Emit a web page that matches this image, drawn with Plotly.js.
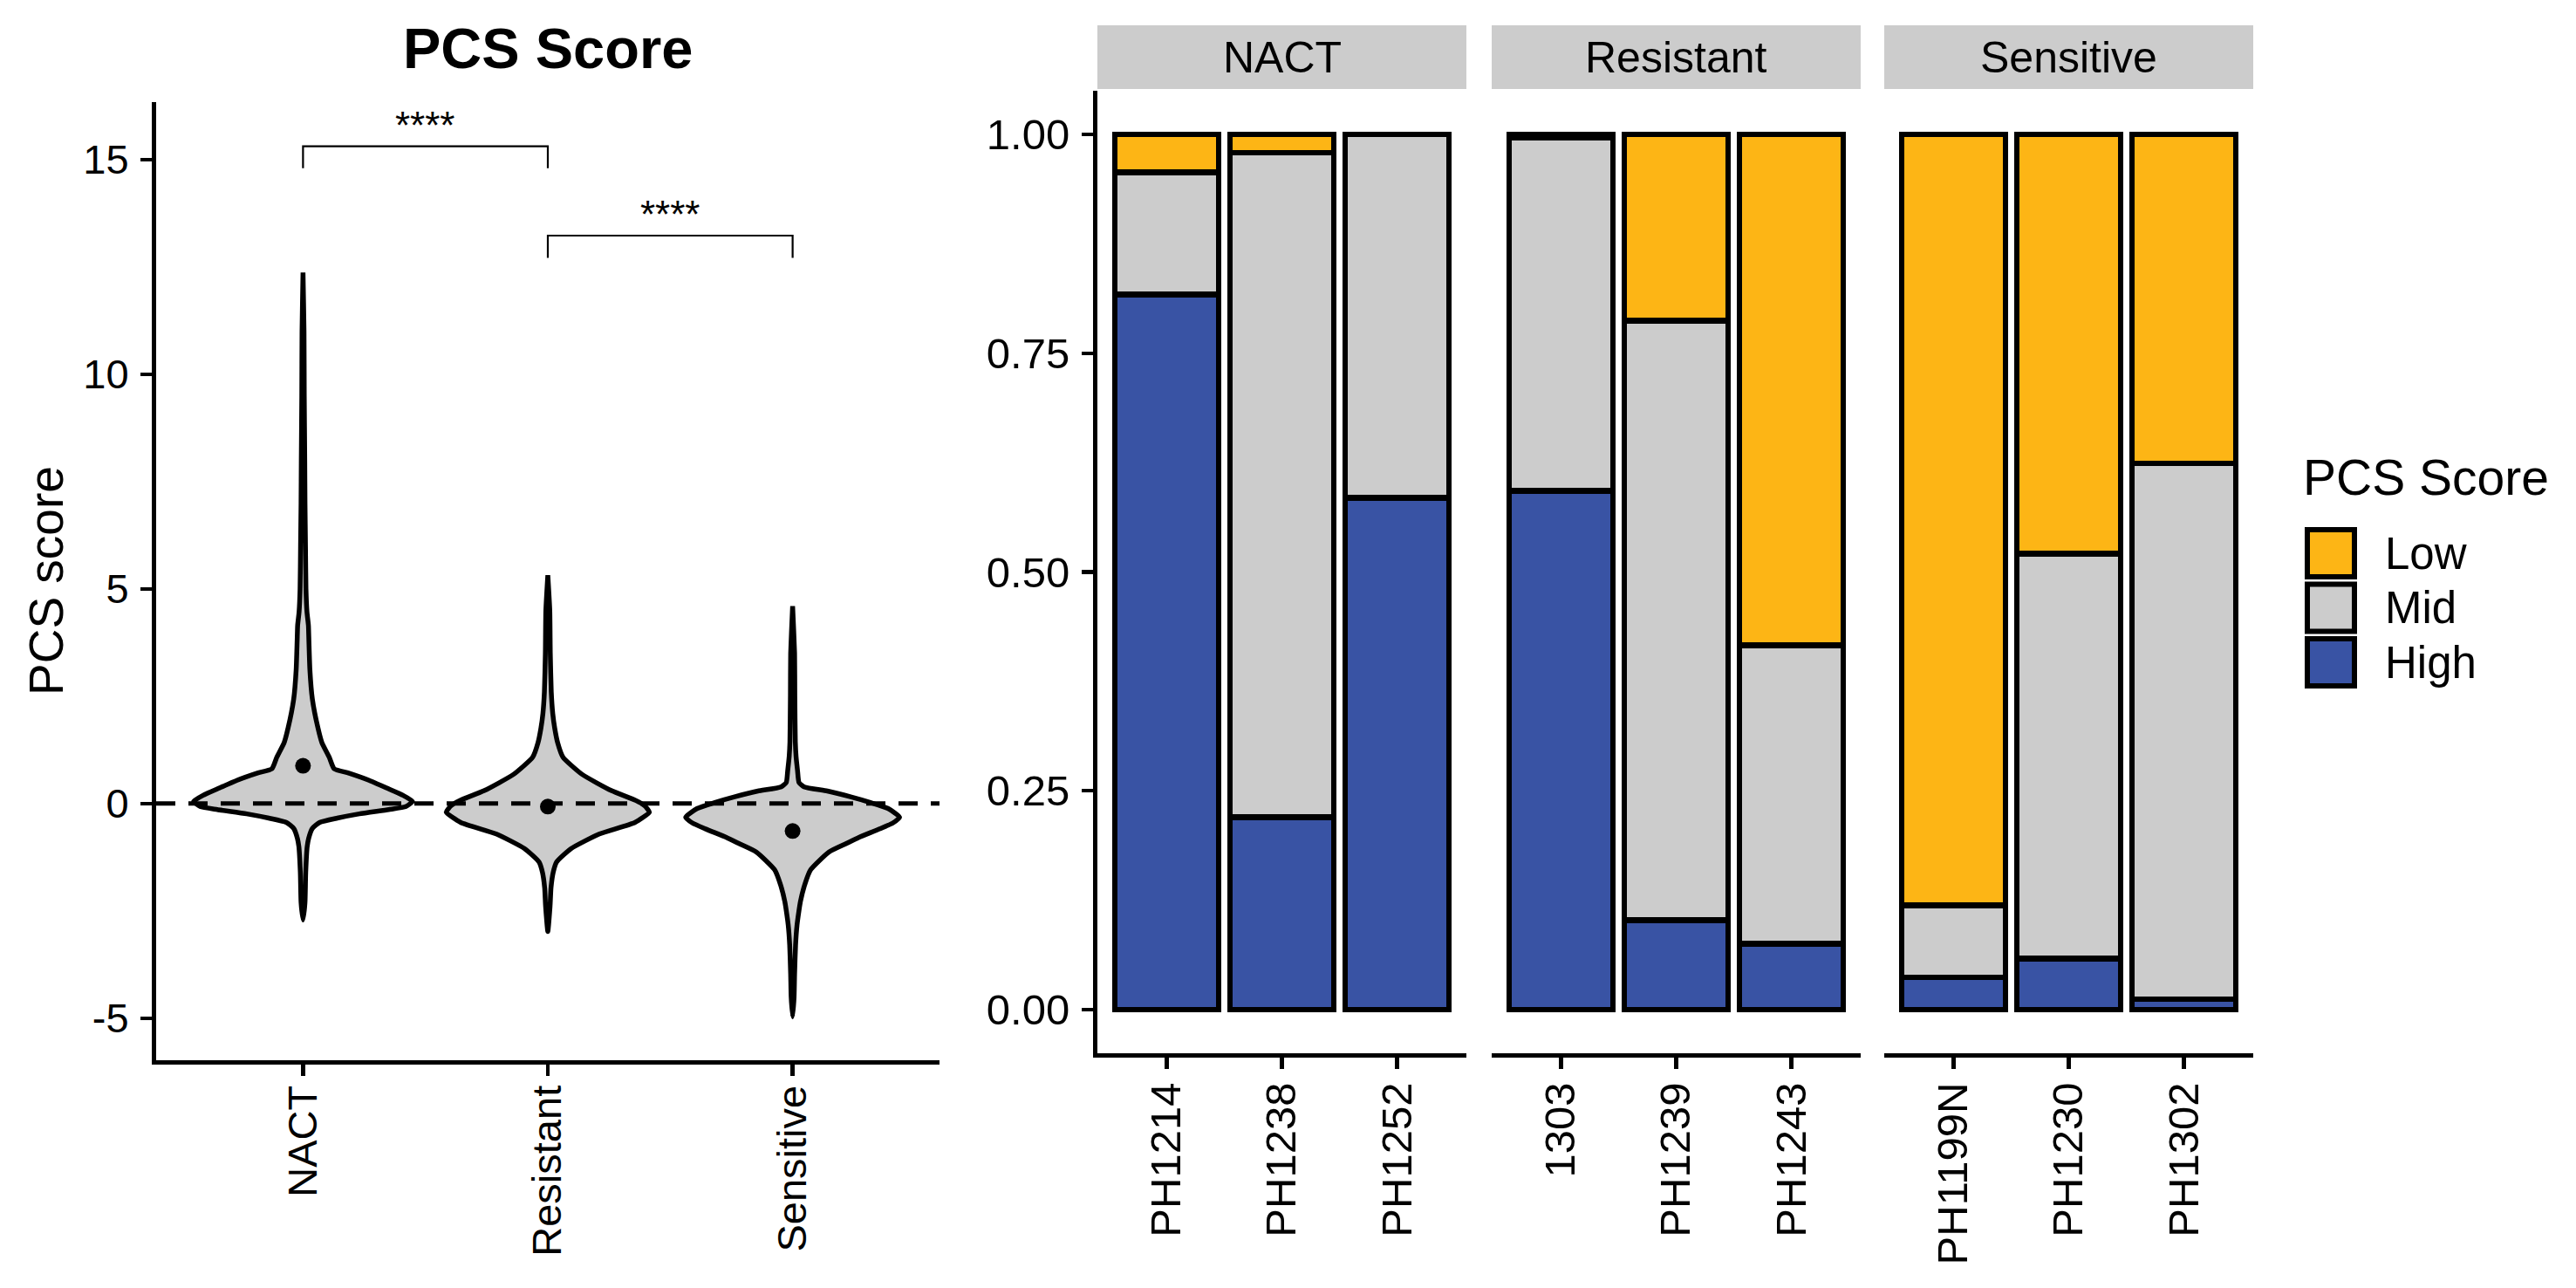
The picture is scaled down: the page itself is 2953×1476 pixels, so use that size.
<!DOCTYPE html>
<html>
<head>
<meta charset="utf-8">
<script src="https://cdn.plot.ly/plotly-3.0.1.min.js"></script>
<style>
  html, body { margin: 0; padding: 0; background: #fff; }
  #plot { width: 2953px; height: 1476px; }
</style>
</head>
<body>
<div id="plot"></div>
<script>
// ---- left panel: violin outlines (score, half width) ----
const groups = ['NACT', 'Resistant', 'Sensitive'];

const nactY = [-2.71, -2.3, -1.6, -1.0, -0.81, -0.58, -0.44, -0.34, -0.24, -0.14, -0.07, 0.05, 0.2, 0.34, 0.54, 0.71, 0.81, 1.08, 1.42, 1.76, 2.44, 3.12, 3.79, 4.15, 4.47, 5.0, 6.0, 7.0, 8.0, 9.5, 11.0, 12.37];
const nactW = [0, 0.008, 0.011, 0.017, 0.023, 0.038, 0.068, 0.14, 0.23, 0.35, 0.42, 0.447, 0.405, 0.35, 0.27, 0.186, 0.127, 0.107, 0.077, 0.061, 0.038, 0.028, 0.024, 0.022, 0.016, 0.012, 0.010, 0.008, 0.007, 0.005, 0.004, 0];

const resY = [-2.98, -2.4, -1.96, -1.6, -1.36, -1.05, -0.71, -0.44, -0.2, -0.05, 0.07, 0.3, 0.68, 1.08, 1.42, 1.76, 2.1, 2.6, 3.5, 4.5, 5.32];
const resW = [0, 0.009, 0.013, 0.022, 0.036, 0.095, 0.21, 0.356, 0.415, 0.395, 0.36, 0.26, 0.14, 0.062, 0.04, 0.028, 0.02, 0.014, 0.010, 0.008, 0];

const senY = [-4.97, -4.5, -3.98, -3.3, -2.83, -2.49, -2.28, -1.88, -1.54, -1.13, -0.93, -0.79, -0.59, -0.45, -0.32, -0.115, 0.02, 0.156, 0.29, 0.39, 0.49, 0.77, 1.1, 1.44, 2.5, 3.5, 4.6];
const senW = [0, 0.006, 0.008, 0.012, 0.018, 0.026, 0.032, 0.05, 0.074, 0.148, 0.22, 0.27, 0.356, 0.41, 0.437, 0.39, 0.32, 0.237, 0.142, 0.047, 0.026, 0.02, 0.014, 0.011, 0.009, 0.008, 0];

const groupMeans = [0.88, -0.07, -0.64];
const scoreTicks = [-5, 0, 5, 10, 15];
const scoreTickText = ['-5', '0', '5', '10', '15'];

// significance brackets
const sigFrom = [1, 2];
const sigTo = [2, 3];
const sigTop = [15.31, 13.23];
const sigTip = [14.8, 12.71];
const sigLabels = ['****', '****'];

// ---- right panel: fraction of cells per sample ----
const facets = ['NACT', 'Resistant', 'Sensitive'];
const nactSamples = ['PH1214', 'PH1238', 'PH1252'];
const resSamples = ['1303', 'PH1239', 'PH1243'];
const senSamples = ['PH1199N', 'PH1230', 'PH1302'];

const levels = ['Low', 'Mid', 'High'];
const levelColors = ['#FDB515', '#CCCCCC', '#3953A4'];

const nactLow = [0.043, 0.021, 0.000];
const nactMid = [0.140, 0.759, 0.415];
const nactHigh = [0.817, 0.220, 0.585];

const resLow = [0.004, 0.213, 0.584];
const resMid = [0.403, 0.685, 0.341];
const resHigh = [0.593, 0.102, 0.075];

const senLow = [0.881, 0.479, 0.376];
const senMid = [0.082, 0.463, 0.612];
const senHigh = [0.037, 0.058, 0.012];

const fracTicks = [0, 0.25, 0.5, 0.75, 1];
const fracTickText = ['0.00', '0.25', '0.50', '0.75', '1.00'];

// ---- build traces ----
const W = 2953, H = 1476;
const px = v => v / W;            // pixel -> paper (x)
const py = v => 1 - v / H;        // pixel -> paper (y)
const FONT = 'Liberation Sans, Arial, Helvetica, sans-serif';

const violinSets = [[nactY, nactW], [resY, resW], [senY, senW]];
const traces = [];

violinSets.forEach(([ys, ws], i) => {
  const c = i + 1;
  const right = ws.map(w => c + w);
  const left = ws.slice().reverse().map(w => c - w);
  traces.push({
    x: right.concat(left),
    y: ys.concat(ys.slice().reverse()),
    type: 'scatter',
    mode: 'lines',
    fill: 'toself',
    fillcolor: '#CCCCCC',
    line: { color: 'black', width: 5.5, shape: 'spline', smoothing: 0.5 },
    hoverinfo: 'skip',
    xaxis: 'x', yaxis: 'y'
  });
});

traces.push({
  x: [1, 2, 3], y: groupMeans,
  type: 'scatter', mode: 'markers',
  marker: { color: 'black', size: 18 },
  hoverinfo: 'skip', xaxis: 'x', yaxis: 'y'
});

sigFrom.forEach((a, i) => {
  traces.push({
    x: [a, a, sigTo[i], sigTo[i]],
    y: [sigTip[i], sigTop[i], sigTop[i], sigTip[i]],
    type: 'scatter', mode: 'lines',
    line: { color: 'black', width: 2.2 },
    hoverinfo: 'skip', xaxis: 'x', yaxis: 'y'
  });
});

const facetSamples = [nactSamples, resSamples, senSamples];
const facetValues = [
  [nactLow, nactMid, nactHigh],
  [resLow, resMid, resHigh],
  [senLow, senMid, senHigh]
];
const facetAxes = ['x2', 'x3', 'x4'];

facets.forEach((f, fi) => {
  // High first so it sits at the bottom of the stack
  [2, 1, 0].forEach(li => {
    traces.push({
      type: 'bar',
      x: facetSamples[fi],
      y: facetValues[fi][li],
      name: levels[li],
      width: 0.9,
      marker: { color: levelColors[li], line: { color: 'black', width: 6.5 } },
      hoverinfo: 'skip',
      xaxis: facetAxes[fi], yaxis: 'y2'
    });
  });
});

// ---- axes ----
const baseAxis = {
  showline: true, linecolor: 'black', linewidth: 5,
  ticks: 'outside', ticklen: 13, tickwidth: 4.5, tickcolor: 'black',
  showgrid: false, zeroline: false, fixedrange: true
};

const facetDomains = [[1258, 1681], [1710, 2133], [2160, 2583]];

const layout = {
  width: W, height: H,
  margin: { l: 0, r: 0, t: 0, b: 0 },
  paper_bgcolor: 'white', plot_bgcolor: 'rgba(0,0,0,0)',
  showlegend: false,
  barmode: 'stack',
  font: { family: FONT, color: 'black' },
  xaxis: {
    ...baseAxis, domain: [px(179), px(1077)], anchor: 'y',
    range: [0.4, 3.6], tickvals: [1, 2, 3], ticktext: groups,
    tickangle: -90, tickfont: { size: 47, color: 'black' }, ticklabelstandoff: -8
  },
  yaxis: {
    ...baseAxis, domain: [py(1215), py(117)], anchor: 'x',
    range: [-5.98, 16.34], tickvals: scoreTicks, ticktext: scoreTickText,
    tickfont: { size: 47, color: 'black' }, ticklabelstandoff: 4
  },
  yaxis2: {
    ...baseAxis, domain: [py(1207), py(104)], anchor: 'x2',
    range: [-0.05, 1.05], tickvals: fracTicks, ticktext: fracTickText,
    tickfont: { size: 49, color: 'black' }, ticklabelstandoff: 4
  },
  shapes: [],
  annotations: []
};

facetAxes.forEach((ax, fi) => {
  layout['xaxis' + (fi + 2)] = {
    ...baseAxis, type: 'category',
    domain: [px(facetDomains[fi][0]), px(facetDomains[fi][1])],
    anchor: 'y2', range: [-0.6, 2.6],
    tickangle: -90, tickfont: { size: 49, color: 'black' }, ticklabelstandoff: -4
  };
  // strip header
  layout.shapes.push({
    type: 'rect', xref: 'paper', yref: 'paper',
    x0: px(facetDomains[fi][0]), x1: px(facetDomains[fi][1]),
    y0: py(102), y1: py(29),
    fillcolor: '#CCCCCC', line: { width: 0 }, layer: 'below'
  });
  layout.annotations.push({
    xref: 'paper', yref: 'paper',
    x: px((facetDomains[fi][0] + facetDomains[fi][1]) / 2), y: py(66),
    text: facets[fi], showarrow: false,
    xanchor: 'center', yanchor: 'middle',
    font: { size: 50, color: 'black' }
  });
});

// dashed reference line at 0
layout.shapes.push({
  type: 'line', xref: 'x', yref: 'y',
  x0: 0.4, x1: 3.6, y0: 0, y1: 0,
  line: { color: 'black', width: 5, dash: '22px,15px' },
  layer: 'above'
});

// significance labels
sigFrom.forEach((a, i) => {
  layout.annotations.push({
    xref: 'x', yref: 'y', x: (a + sigTo[i]) / 2, y: sigTop[i] + 0.5,
    text: sigLabels[i], showarrow: false,
    xanchor: 'center', yanchor: 'middle',
    font: { size: 44, color: 'black' }
  });
});

// titles
layout.annotations.push({
  xref: 'paper', yref: 'paper', x: px(628), y: py(56),
  text: '<b>PCS Score</b>', showarrow: false,
  xanchor: 'center', yanchor: 'middle',
  font: { size: 65, color: 'black' }
});
layout.annotations.push({
  xref: 'paper', yref: 'paper', x: px(53), y: py(666),
  text: 'PCS score', textangle: -90, showarrow: false,
  xanchor: 'center', yanchor: 'middle',
  font: { size: 55, color: 'black' }
});

// legend drawn by hand so the keys can be large squares
layout.annotations.push({
  xref: 'paper', yref: 'paper', x: px(2638), y: py(547),
  text: 'PCS Score', showarrow: false,
  xanchor: 'left', yanchor: 'middle',
  font: { size: 57, color: 'black' }
});
levels.forEach((lv, i) => {
  const top = 603 + i * 62.5;
  layout.shapes.push({
    type: 'rect', xref: 'paper', yref: 'paper',
    x0: px(2645), x1: px(2699), y0: py(top + 58), y1: py(top + 4),
    fillcolor: levelColors[i], line: { color: 'black', width: 6 }
  });
  layout.annotations.push({
    xref: 'paper', yref: 'paper', x: px(2732), y: py(top + 31),
    text: lv, showarrow: false, xanchor: 'left', yanchor: 'middle',
    font: { size: 51, color: 'black' }
  });
});

Plotly.newPlot('plot', traces, layout, { staticPlot: true, displayModeBar: false });
</script>
</body>
</html>
